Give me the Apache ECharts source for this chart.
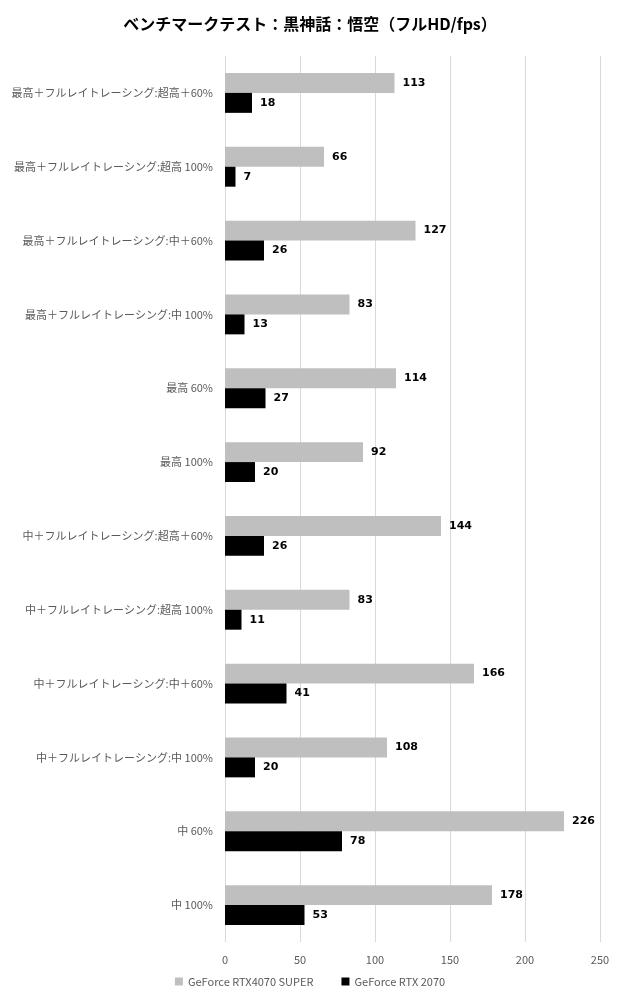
<!DOCTYPE html>
<html><head><meta charset="utf-8">
<script src="https://cdn.jsdelivr.net/npm/echarts@6/dist/echarts.min.js"></script>
<style>html,body{margin:0;padding:0;background:#fff}#c{width:620px;height:1000px}</style>
</head><body><div id="c"></div>
<script>
const categories = [
  '最高＋フルレイトレーシング:超高＋60%',
  '最高＋フルレイトレーシング:超高 100%',
  '最高＋フルレイトレーシング:中＋60%',
  '最高＋フルレイトレーシング:中 100%',
  '最高 60%',
  '最高 100%',
  '中＋フルレイトレーシング:超高＋60%',
  '中＋フルレイトレーシング:超高 100%',
  '中＋フルレイトレーシング:中＋60%',
  '中＋フルレイトレーシング:中 100%',
  '中 60%',
  '中 100%'
];
const rtx4070s = [113, 66, 127, 83, 114, 92, 144, 83, 166, 108, 226, 178];
const rtx2070 = [18, 7, 26, 13, 27, 20, 26, 11, 41, 20, 78, 53];
const seriesNames = ['GeForce RTX4070 SUPER', 'GeForce RTX 2070'];
const xTicks = [0, 50, 100, 150, 200, 250];

const font = '"Noto Sans CJK JP", "Noto Sans", sans-serif';
const chart = echarts.init(document.getElementById('c'));
const lbl = {show: true, position: 'right', distance: 8, color: '#000', fontWeight: 'bold', fontSize: 11, fontFamily: 'Verdana, "DejaVu Sans", sans-serif'};
chart.setOption({
  animation: false,
  title: {text: 'ベンチマークテスト：黒神話：悟空（フルHD/fps）', left: 'center', top: 11,
    textStyle: {fontSize: 16, fontWeight: 'bold', color: '#000', fontFamily: font}},
  legend: {bottom: 8, left: 'center', itemWidth: 8, itemHeight: 8, itemGap: 28, icon: 'rect',
    textStyle: {color: '#595959', fontSize: 11, fontFamily: font}},
  grid: {left: 225, right: 20, top: 56, bottom: 58},
  xAxis: {type: 'value', min: xTicks[0], max: xTicks[xTicks.length-1], interval: 50,
    axisLine: {show: false}, axisTick: {show: false},
    axisLabel: {color: '#595959', fontSize: 11, margin: 12, fontFamily: font},
    splitLine: {lineStyle: {color: '#d9d9d9'}}},
  yAxis: {type: 'category', data: categories, inverse: true,
    axisLine: {show: false}, axisTick: {show: false},
    axisLabel: {color: '#595959', fontSize: 11, margin: 12, fontFamily: font}},
  series: [
    {name: seriesNames[0], type: 'bar', data: rtx4070s, barGap: '0%', barCategoryGap: '46%',
      itemStyle: {color: '#bfbfbf'}, label: lbl},
    {name: seriesNames[1], type: 'bar', data: rtx2070, barGap: '0%', barCategoryGap: '46%',
      itemStyle: {color: '#000'}, label: lbl}
  ]
});
</script></body></html>
